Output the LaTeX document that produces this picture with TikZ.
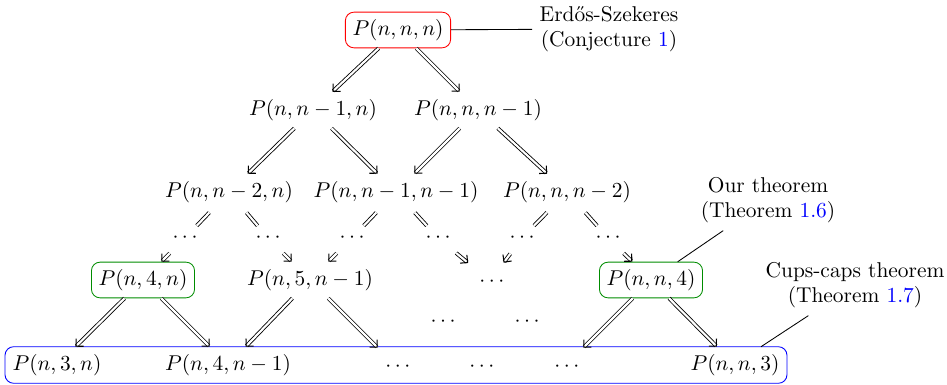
\documentclass[tikz,border=0pt]{standalone}
\usepackage{fontspec}
\usetikzlibrary{calc,fit,arrows.meta}
\begin{document}
\begin{tikzpicture}[x=0.467pt,y=-0.467pt,
  imp/.style={double,double distance=1pt,-{Straight Barb[length=2.5pt,width=5pt,line width=0.5pt]}},
  dbl/.style={double,double distance=1pt},
  rbox/.style={draw,rounded corners=4pt},
  note/.style={align=center}]
\useasboundingbox (0,0) rectangle (947,385);
% row 1
\node[rbox,draw=red] (t) at (398,30) {$P(n,n,n)$};
% row 2
\node (a1) at (313,110) {$P(n,n-1,n)$};
\node (a2) at (478,110) {$P(n,n,n-1)$};
% row 3
\node (c1) at (229,192) {$P(n,n-2,n)$};
\node (c2) at (396,192) {$P(n,n-1,n-1)$};
\node (c3) at (567,192) {$P(n,n,n-2)$};
% row 4 dots
\node (d1) at (185,238) {$\cdots$};
\node (d2) at (268,238) {$\cdots$};
\node (d3) at (352,238) {$\cdots$};
\node (d4) at (438,238) {$\cdots$};
\node (d5) at (522,238) {$\cdots$};
\node (d6) at (608,238) {$\cdots$};
% row 5
\node[rbox,draw=green!55!black] (e1) at (143,280) {$P(n,4,n)$};
\node (e2) at (310,280) {$P(n,5,n-1)$};
\node (e3) at (490,281) {$\vphantom{P(}\cdots$};
\node[rbox,draw=green!55!black] (e4) at (651,280) {$P(n,n,4)$};
% row 6 dots
\node (f1) at (443,322) {$\cdots$};
\node (f2) at (527,322) {$\cdots$};
% row 7
\node (b1) at (57,365) {$P(n,3,n)$};
\node (b2) at (228,365) {$P(n,4,n-1)$};
\node (b3) at (396,366) {$\vphantom{P(}\cdots$};
\node (b4) at (480,366) {$\vphantom{P(}\cdots$};
\node (b5) at (565,366) {$\vphantom{P(}\cdots$};
\node (b6) at (735,365) {$P(n,n,3)$};
\node[fit=(b1)(b6),inner sep=0pt,draw=blue,rounded corners=4pt] (bx) {};
% arrows
\draw[imp] (t) -- (a1);
\draw[imp] (t) -- (a2);
\draw[imp] (a1) -- (c1);
\draw[imp] (a1) -- (c2);
\draw[imp] (a2) -- (c2);
\draw[imp] (a2) -- (c3);
\draw[dbl,shorten <=1.5pt] (c1) -- (d1);
\draw[dbl,shorten <=1.5pt] (c1) -- (d2);
\draw[dbl,shorten <=1.5pt] (c2) -- (d3);
\draw[dbl,shorten <=1.5pt] (c2) -- (d4);
\draw[dbl,shorten <=1.5pt] (c3) -- (d5);
\draw[dbl,shorten <=1.5pt] (c3) -- (d6);
\draw[imp,shorten <=2pt] (d1) -- (e1);
\draw[imp,shorten <=2pt] (d2) -- (e2);
\draw[imp,shorten <=2pt] (d3) -- (e2);
\draw[imp,shorten <=2pt] (d4) -- (e3);
\draw[imp,shorten <=2pt] (d5) -- (e3);
\draw[imp,shorten <=2pt] (d6) -- (e4);
\draw[imp] (e1) -- (b1);
\draw[imp] (e1) -- (b2);
\draw[imp] (e2) -- (b2);
\draw[imp] (e2) -- (b3);
\draw[imp] (e4) -- (b5);
\draw[imp] (e4) -- (b6);
% notes
\node[note] (erd) at (609,29) {Erdős-Szekeres\\(Conjecture \textcolor{blue}{1})};
\node[note] (our) at (768,200) {Our theorem\\(Theorem \textcolor{blue}{1.6})};
\node[note] (cup) at (855,285) {Cups-caps theorem\\(Theorem \textcolor{blue}{1.7})};
\draw (t) -- (erd);
\draw (our) -- (e4);
\coordinate (cp) at ($(b6.north)!0.5!(b6.north east)$);
\draw (cup) -- (cp);
\end{tikzpicture}
\end{document}
